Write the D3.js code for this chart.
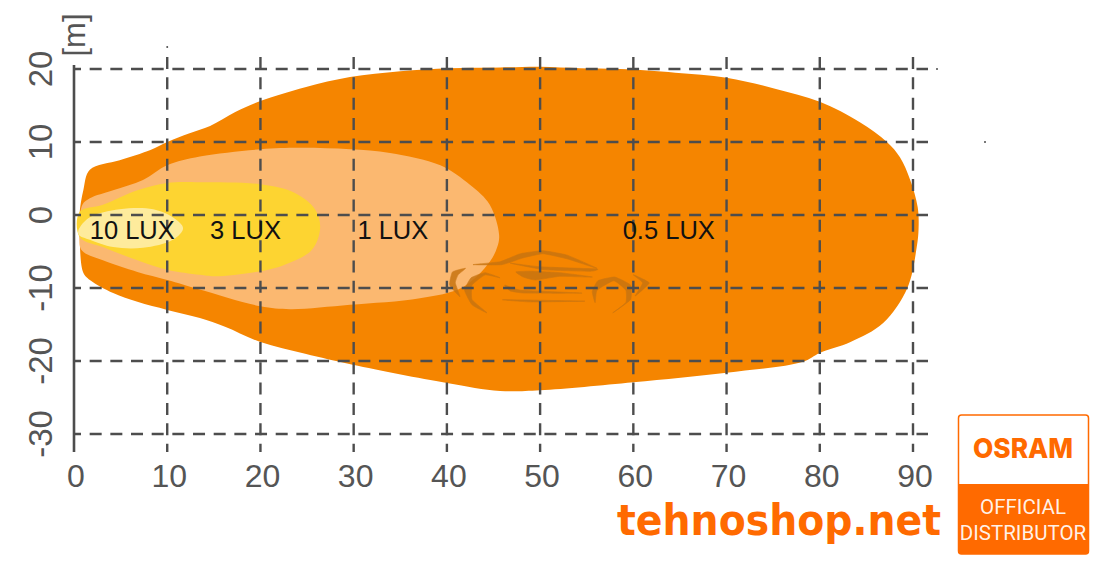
<!DOCTYPE html>
<html><head><meta charset="utf-8">
<script src="https://cdnjs.cloudflare.com/ajax/libs/d3/7.8.5/d3.min.js"></script>
<style>html,body{margin:0;padding:0;background:#fff}svg{display:block}</style></head>
<body><div id="chart"></div>
<script>
const xTicks=[0,10,20,30,40,50,60,70,80,90];
const yTicks=[20,10,0,-10,-20,-30];
const axisUnit="[m]";
const zone05=[[0.6,0.3],[1,3.4],[1.7,6.2],[4.9,7.5],[8.2,8.9],[10,10],[12.4,11.2],[14.6,12.2],[17.3,14.1],[20,15.6],[24.8,17.5],[29.6,18.9],[35,19.7],[40.3,20.1],[45.7,20.2],[50,20.3],[54.3,20.1],[58.6,20],[64.5,19.5],[70,18.8],[75.2,17.3],[80,15.5],[84.3,12.7],[87.2,10],[88.6,7.9],[89.7,4.8],[90.5,1.1],[90.6,-1.8],[90.4,-4.4],[89.4,-10],[86.8,-14.8],[83.3,-17.4],[80,-18.9],[78.2,-20.1],[70,-21.6],[60,-22.9],[50,-24],[45.7,-24.1],[40,-23],[29.9,-20.5],[24.8,-19],[20,-17.4],[16.2,-15.3],[13.5,-14.1],[10,-13],[6.8,-11.9],[4.2,-10.7],[1.7,-8.9],[1,-7.9],[0.6,-3]];
const zone1=[[0.9,1.4],[1.7,2.3],[4.2,3.4],[7.4,4.8],[10,6.8],[13.5,8],[20,9],[24.2,9.2],[29.6,9],[33.9,8.5],[39.3,6.8],[42.5,4.1],[44.6,1.4],[45.6,-2.7],[45.4,-4.4],[44.6,-6.4],[41.7,-9.9],[37.1,-11.4],[29.6,-12.3],[23.2,-12.9],[20,-12.5],[13.5,-10.2],[10,-8.9],[6.8,-7.8],[3.1,-6.2],[0.8,-4.8],[0.6,-2.7]];
const zone3=[[0.6,0.4],[3.1,1.4],[6.8,3.4],[10,4.4],[13.5,4.5],[20,4.2],[23.7,3],[25.9,0.7],[26.4,-1.8],[25.5,-4.8],[22.6,-6.8],[20,-7.7],[15.1,-8.4],[13.5,-8.2],[10,-7.5],[6.8,-6.2],[3.1,-4.4],[0.6,-3]];
const zone10=[[0.5,-2],[1.7,-0.3],[4.9,0.8],[8.5,0.8],[10.6,-0.3],[11.7,-1.8],[10.6,-3.4],[7.4,-4.5],[4.2,-4.4],[1.7,-3.4],[0.5,-2.7]];
const zoneColors=["#f58500","#fbb870","#fdd431","#feeb9c"];
const zoneLabels=[["10 LUX",6.25],["3 LUX",18.4],["1 LUX",34.2],["0.5 LUX",63.8]];
const carRoof=[[42.8,-6.8],[45.7,-6.4],[47.9,-5.3],[50.3,-4.9],[52.9,-5.5],[56.1,-7.3],[52.9,-6],[50.3,-5.3],[48.1,-5.9],[45.9,-6.8]];
const carWindow=[[46.8,-6.6],[50,-7.1],[56.1,-7.4],[55.4,-7.7],[50.5,-7.5]];
const carSide=[[47.4,-7.8],[48.9,-7.7],[52.1,-7.9],[55.6,-8.5],[52.1,-8.4],[49.5,-8.9],[48.2,-8.5]];
const carSill=[[46.2,-9.6],[47.9,-10.3],[54.5,-10.7],[48.4,-10.7],[46.8,-10.4]];
const carLower=[[46,-11.6],[54.8,-11.8],[48.9,-11.9]];
const carRearWheel=[[44.3,-13.4],[42.7,-12.3],[41.9,-10.3],[42.6,-8.6],[44.1,-7.9],[45.7,-8.6],[44.1,-8.2],[42.7,-9.6],[42.7,-11.6]];
const carFrontWheel=[[57.8,-13.4],[59.7,-11.6],[59.7,-9.6],[58,-8.5],[56.2,-9],[55.6,-10.5],[55.9,-12],[56.1,-10.3],[57.9,-9],[59.2,-10.3],[59.2,-12]];
const carRear=[[42,-7.3],[40.6,-7.8],[40.3,-9.6],[41.4,-11.2],[40.9,-9.3],[41.2,-8.2]];
const carFront=[[60,-8.2],[61.7,-9.3],[60.2,-11.1],[61,-9.3]];
const carShapes=[carRoof,carWindow,carSide,carSill,carLower,carRearWheel,carFrontWheel,carRear,carFront];
const brand="tehnoshop.net";
const logoLines=["OSRAM","OFFICIAL","DISTRIBUTOR"];

const W=1100,H=563;
const x=d3.scaleLinear().domain([0,90]).range([74,913]);
const y=d3.scaleLinear().domain([20,-30]).range([69,434]);
const svg=d3.select("#chart").append("svg").attr("width",W).attr("height",H);
const ink="#4d4d4d";
const line=d3.line().x(d=>x(d[0])).y(d=>y(d[1])).curve(d3.curveCatmullRomClosed.alpha(0.5));
const carLine=d3.line().x(d=>x(d[0])).y(d=>y(d[1])).curve(d3.curveCardinalClosed.tension(0.6));

svg.append("g").selectAll("path").data([zone05,zone1,zone3,zone10]).join("path")
  .attr("d",line).attr("fill",(d,i)=>zoneColors[i]);
svg.append("g").selectAll("path").data(carShapes).join("path")
  .attr("d",carLine).attr("fill","#c87410").attr("stroke","#c87410").attr("stroke-width",0.6).attr("opacity",0.85);

// grid
svg.append("g").selectAll("line").data(yTicks).join("line")
  .attr("x1",x(0)).attr("x2",928).attr("y1",d=>y(d)).attr("y2",d=>y(d))
  .attr("stroke",ink).attr("stroke-width",2.4).attr("stroke-dasharray","12 8.67").attr("stroke-dashoffset",5);
svg.append("g").selectAll("line").data(xTicks.slice(1)).join("line")
  .attr("x1",d=>x(d)).attr("x2",d=>x(d)).attr("y1",57).attr("y2",452)
  .attr("stroke",ink).attr("stroke-width",2.4).attr("stroke-dasharray","12 8.35");
svg.append("line").attr("x1",x(0)).attr("x2",x(0)).attr("y1",65).attr("y2",452)
  .attr("stroke",ink).attr("stroke-width",2.6);
// faint specks of the original scan
svg.append("g").selectAll("circle").data([[x(10),47],[937,y(20)],[985,y(10)]]).join("circle")
  .attr("cx",d=>d[0]).attr("cy",d=>d[1]).attr("r",1).attr("fill",ink);

const font="'Liberation Sans',Arial,sans-serif";
svg.append("g").selectAll("text").data(xTicks).join("text")
  .attr("x",d=>x(d)+2).attr("y",487).attr("text-anchor","middle")
  .attr("font-family",font).attr("font-size",32).attr("fill","#555").text(d=>d);
svg.append("g").selectAll("text").data(yTicks).join("text")
  .attr("transform",d=>`translate(52,${y(d)}) rotate(-90)`).attr("text-anchor","middle")
  .attr("font-family",font).attr("font-size",33).attr("fill","#555").text(d=>d);
svg.append("text").attr("transform","translate(85,35) rotate(-90)").attr("text-anchor","middle")
  .attr("font-family",font).attr("font-size",31).attr("fill","#555").text(axisUnit);
svg.append("g").selectAll("text").data(zoneLabels).join("text")
  .attr("x",d=>x(d[1])).attr("y",238.5).attr("text-anchor","middle")
  .attr("font-family",font).attr("font-size",25.5).attr("fill","#111").text(d=>d[0]);

// branding
const orange="#ff6a00";
svg.append("text").attr("x",617).attr("y",535).attr("font-family","'DejaVu Sans',sans-serif").attr("font-weight",700)
  .attr("font-size",42).attr("fill",orange).attr("textLength",324).attr("lengthAdjust","spacingAndGlyphs").text(brand);
svg.append("rect").attr("x",958.5).attr("y",415).attr("width",130).attr("height",139).attr("rx",3)
  .attr("fill","#fff").attr("stroke",orange).attr("stroke-width",1.5);
svg.append("path").attr("d","M958,484H1089V551a3,3 0 0 1 -3,3H961a3,3 0 0 1 -3,-3Z").attr("fill",orange);
svg.append("text").attr("x",1023).attr("y",458).attr("text-anchor","middle").attr("font-family","Inter,sans-serif")
  .attr("font-weight",800).attr("font-size",27.5).attr("fill",orange).attr("textLength",100).attr("lengthAdjust","spacingAndGlyphs").text(logoLines[0]);
svg.append("text").attr("x",1023).attr("y",514).attr("text-anchor","middle").attr("font-family","Roboto,sans-serif")
  .attr("font-size",20.5).attr("fill","#fff").attr("fill-opacity",0.92).text(logoLines[1]);
svg.append("text").attr("x",1023).attr("y",539.5).attr("text-anchor","middle").attr("font-family","Roboto,sans-serif")
  .attr("font-size",20.5).attr("fill","#fff").attr("fill-opacity",0.92).text(logoLines[2]);
</script></body></html>
